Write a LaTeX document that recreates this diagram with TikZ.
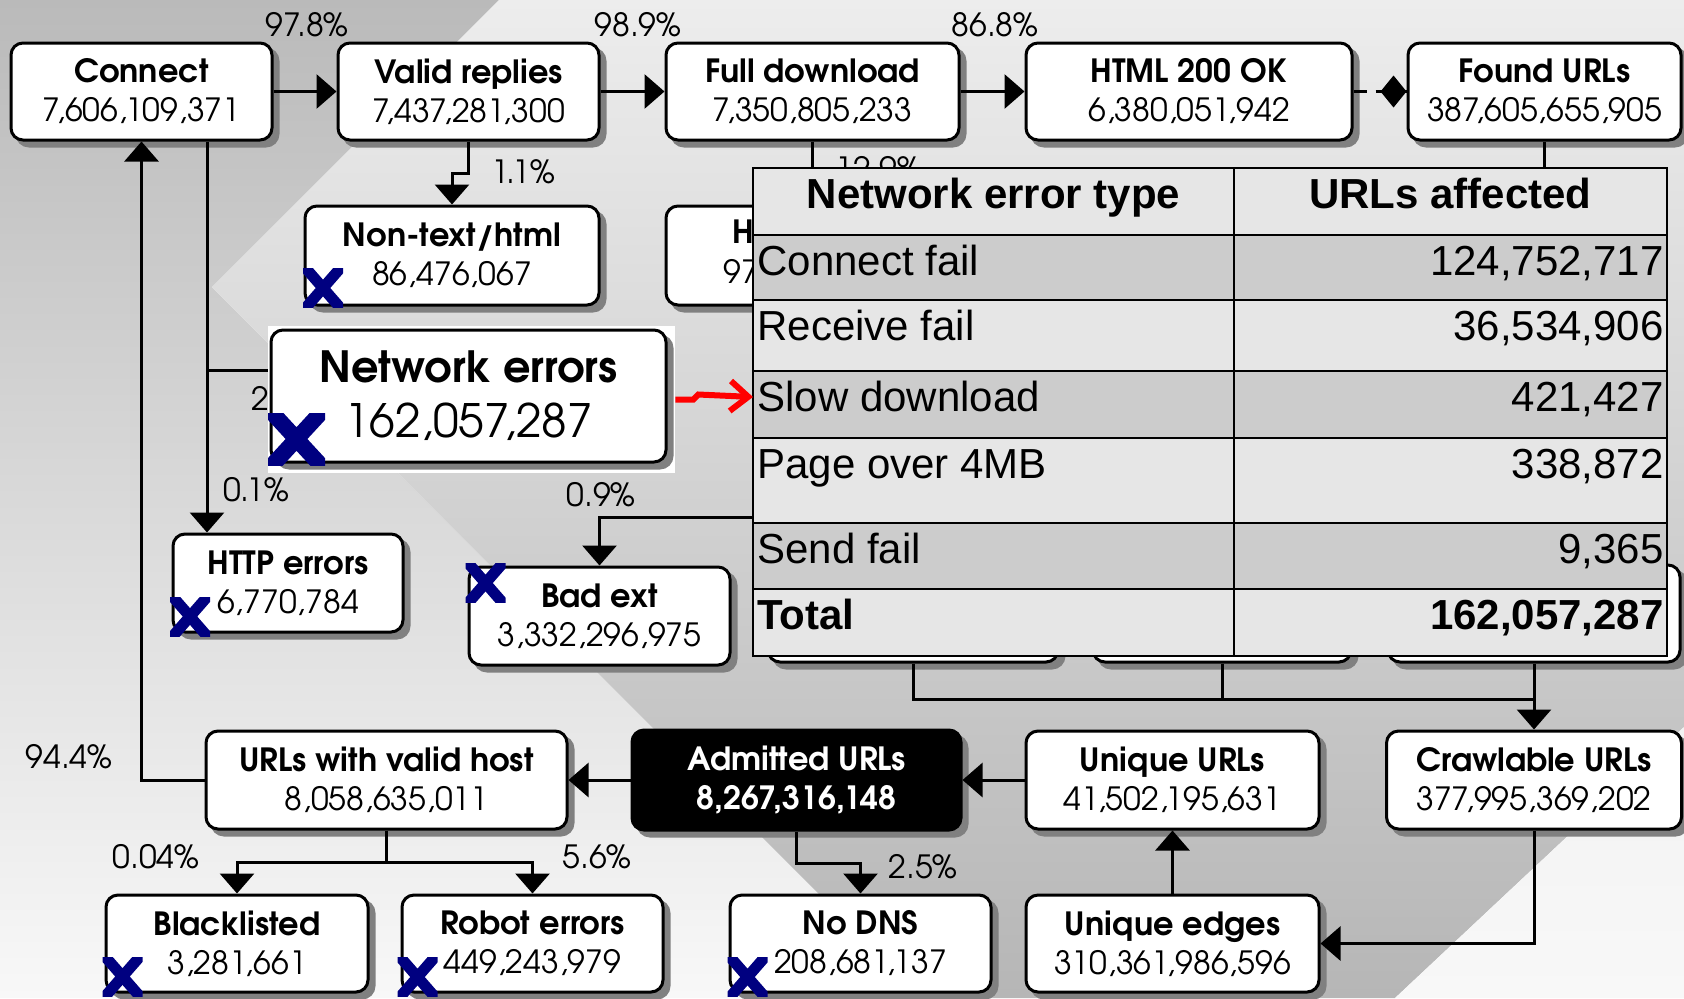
\documentclass[tikz,border=0pt]{standalone}
\usepackage{fontspec}
\setmainfont{texgyreadventor}[Extension=.otf,UprightFont=*-regular,BoldFont=*-bold,ItalicFont=*-italic,BoldItalicFont=*-bolditalic]
\newfontfamily\tabfont{Liberation Sans}
\usetikzlibrary{arrows.meta}
\definecolor{shd}{RGB}{128,128,128}
\definecolor{xnavy}{RGB}{0,0,128}
\definecolor{rowdark}{RGB}{204,204,204}
\definecolor{rowlight}{RGB}{230,230,230}
\definecolor{bgA}{RGB}{186,186,186}
\definecolor{bgB}{RGB}{248,248,248}
\definecolor{bgC}{RGB}{237,237,237}
\definecolor{bgD}{RGB}{182,182,182}
\definecolor{bgE}{RGB}{242,242,242}
\begin{document}
\begin{tikzpicture}[x=0.5pt,y=-0.5pt,
  box/.style={draw, line width=1.5pt, rounded corners=6pt, fill=white, align=center, inner sep=0pt,
    font=\fontsize{16}{19.5}\selectfont,
    preaction={draw=shd, fill=shd, transform canvas={xshift=3pt,yshift=-3pt}}},
  pct/.style={font=\fontsize{16}{19}\selectfont, inner sep=0pt},
  conn/.style={line width=1.5pt},
  arr/.style={line width=1.5pt, -{Triangle[length=10pt,width=17pt]}},
  tt/.style={font=\tabfont\fontsize{21}{25}\selectfont, inner sep=0pt},
  ttb/.style={font=\tabfont\fontsize{21}{25}\selectfont\bfseries, inner sep=0pt},
  grid/.style={line width=1pt},
  xmk/.pic={\begin{scope}\clip (-20,-19.5) rectangle (20,19.5);
      \draw[xnavy, line width=5.5pt] (-34,-39) -- (34,39) (34,-39) -- (-34,39);\end{scope}},
  xmkbig/.pic={\begin{scope}\clip (-28.5,-26) rectangle (28.5,26);
      \draw[xnavy, line width=8pt] (-48,-52) -- (48,52) (48,-52) -- (-48,52);\end{scope}}
]
\useasboundingbox (0,0) rectangle (1684,998);
% background
\shade[top color=bgA, bottom color=bgB] (0,0) -- (499,0) -- (212,287) -- (923,998) -- (0,998) -- cycle;
\shade[top color=bgC, bottom color=bgD] (499,0) -- (1684,0) -- (1684,727) -- (1395,998) -- (923,998) -- (212,287) -- cycle;
\shade[top color=bgE, bottom color=bgB] (1684,727) -- (1684,998) -- (1395,998) -- cycle;

% boxes
\node[box, minimum width=130.5pt, minimum height=48.5pt] (connect) at (141.5,91.5) {\textbf{Connect}\\7,606,109,371};
\node[box, minimum width=130.5pt, minimum height=48.5pt] (valid) at (468.5,91.5) {\textbf{Valid replies}\\7,437,281,300};
\node[box, minimum width=146.5pt, minimum height=48.5pt] (full) at (812.5,91.5) {\textbf{Full download}\\7,350,805,233};
\node[box, minimum width=163pt, minimum height=48.5pt] (html) at (1189,91.5) {\textbf{HTML 200 OK}\\6,380,051,942};
\node[box, minimum width=136.5pt, minimum height=48.5pt] (found) at (1544.5,91.5) {\textbf{Found URLs}\\387,605,655,905};
\node[box, minimum width=147pt, minimum height=49.5pt] (nontext) at (452,255.5) {\textbf{Non-text/html}\\86,476,067};
\node[box, minimum width=146.5pt, minimum height=49.5pt] (hbox) at (812.5,255.5) {};
\node[box, minimum width=115pt, minimum height=49pt] (http) at (288,583) {\textbf{HTTP errors}\\6,770,784};
\node[box, minimum width=130.5pt, minimum height=49pt] (badext) at (599.5,616) {\textbf{Bad ext}\\3,332,296,975};
\node[box, minimum width=145pt, minimum height=48.5pt] (hid1) at (913,613.5) {};
\node[box, minimum width=129pt, minimum height=48.5pt] (hid2) at (1222,613.5) {};
\node[box, minimum width=146pt, minimum height=48.5pt] (hid3) at (1534,613.5) {};
\node[box, minimum width=180.5pt, minimum height=49pt] (validhost) at (386.5,780) {\textbf{URLs with valid host}\\8,058,635,011};
\node[box, fill=black, text=white, minimum width=164.5pt, minimum height=50pt] (admitted) at (796.5,780) {\textbf{Admitted URLs}\\\textbf{8,267,316,148}};
\node[box, minimum width=146.5pt, minimum height=49pt] (unique) at (1172.5,780) {\textbf{Unique URLs}\\41,502,195,631};
\node[box, minimum width=147.5pt, minimum height=49pt] (crawl) at (1534,780) {\textbf{Crawlable URLs}\\377,995,369,202};
\node[box, minimum width=131pt, minimum height=48.5pt] (black) at (237,943.5) {\textbf{Blacklisted}\\3,281,661};
\node[box, minimum width=130.5pt, minimum height=48.5pt] (robot) at (532.5,943.5) {\textbf{Robot errors}\\449,243,979};
\node[box, minimum width=130.5pt, minimum height=48.5pt] (nodns) at (860.5,943.5) {\textbf{No DNS}\\208,681,137};
\node[box, minimum width=146.5pt, minimum height=48.5pt] (edges) at (1172.5,943.5) {\textbf{Unique edges}\\310,361,986,596};

\node[font=\fontsize{16}{19}\selectfont\bfseries, anchor=base west, inner sep=0pt] (hH) at (732,243) {H};
\node[pct, anchor=base west] (h97) at (723,283) {97};

% connectors
\coordinate (j1) at (207,370);
\coordinate (j2) at (760,517);
\draw[arr] (connect) -- (valid);
\draw[arr] (valid) -- (full);
\draw[arr] (full) -- (html);
\draw[line width=1.5pt, dash pattern=on 6.5pt off 4.5pt] (html) -- (found);
\draw[line width=1.5pt, -{Diamond[length=13pt,width=16pt]}] ([xshift=-8pt]found.west) -- (found.west);
\draw[arr] (valid.south) -- ++(0,32) -| (nontext.north);
\draw[arr] (connect.south -| j1) -- (http.north -| j1);
\draw[conn] (j1) -- (j1 -| hbox.west);
\draw[arr] (validhost.west) -| (connect.south);
\draw[arr] (j2) -| (badext.north);
\draw[arr] (full.south) -- (hbox.north);
\draw[conn] (found.south) -- ++(0,70);
\draw[conn] (hid1.south) -- ++(0,36) -| (hid3.south);
\draw[conn] (hid2.south) -- ++(0,36);
\draw[arr] (hid3.south) -- (crawl.north);
\draw[arr] (unique) -- (admitted);
\draw[arr] (admitted) -- (validhost);
\draw[arr] (validhost.south) -- ++(0,32) -| (black.north);
\draw[arr] (validhost.south) -- ++(0,32) -| (robot.north);
\draw[arr] (admitted.south) -- ++(0,32) -| (nodns.north);
\draw[arr] (crawl.south) |- (edges.east);
\draw[arr] (edges) -- (unique);

% labels
\node[pct] (p1) at (307,25) {97.8\%};
\node[pct] (p2) at (638,25) {98.9\%};
\node[pct] (p3) at (995,25) {86.8\%};
\node[pct] (p4) at (523,172) {1.1\%};
\node[pct] (p5) at (256,490) {0.1\%};
\node[pct] (p6) at (601,495) {0.9\%};
\node[pct] (p7) at (69,757) {94.4\%};
\node[pct] (p8) at (156,857) {0.04\%};
\node[pct] (p9) at (597,857) {5.6\%};
\node[pct] (p10) at (923,867) {2.5\%};
\node[pct] (p11) at (260,398) {2};
\node[pct, anchor=base west] (p12) at (835,180) {12.9\%};

% x marks
\pic at (323,288) {xmk};
\pic at (190,616.5) {xmk};
\pic at (485.5,583) {xmk};
\pic at (122.5,976.5) {xmk};
\pic at (417.5,977) {xmk};
\pic at (747.5,977) {xmk};

% network errors
\node[fill=white, minimum width=203.5pt, minimum height=73.5pt, inner sep=0pt] (netbg) at (471.5,399.5) {};
\node[box, minimum width=197.5pt, minimum height=66pt, font=\fontsize{21.5}{27.5}\selectfont] (network) at (468.5,396) {\textbf{Network errors}\\{\fontsize{23}{27.5}\selectfont 162,057,287}};
\pic at (296.5,439) {xmkbig};

% table
\fill[rowlight] (753,168) rectangle (1667,235);
\fill[rowdark] (753,235) rectangle (1667,300);
\fill[rowlight] (753,300) rectangle (1667,371);
\fill[rowdark] (753,371) rectangle (1667,438);
\fill[rowlight] (753,438) rectangle (1667,523);
\fill[rowdark] (753,523) rectangle (1667,589);
\fill[rowlight] (753,589) rectangle (1667,656);
\foreach \yy in {235,300,371,438,523,589} \draw[grid] (753,\yy) -- (1667,\yy);
\draw[grid] (1234,168) -- (1234,656);
\draw[line width=1.3pt] (753,168) rectangle (1667,656);
\coordinate (tslow) at (753,397);
\node[ttb, anchor=base] (th1) at (993.5,208) {Network error type};
\node[ttb, anchor=base] (th2) at (1450.5,208) {URLs affected};
\node[tt, anchor=base west] (ta1) at (757,275) {Connect fail};
\node[tt, anchor=base east] (tb1) at (1664,275) {124,752,717};
\node[tt, anchor=base west] (ta2) at (757,340) {Receive fail};
\node[tt, anchor=base east] (tb2) at (1664,340) {36,534,906};
\node[tt, anchor=base west] (ta3) at (757,411) {Slow download};
\node[tt, anchor=base east] (tb3) at (1664,411) {421,427};
\node[tt, anchor=base west] (ta4) at (757,478) {Page over 4MB};
\node[tt, anchor=base east] (tb4) at (1664,478) {338,872};
\node[tt, anchor=base west] (ta5) at (757,563) {Send fail};
\node[tt, anchor=base east] (tb5) at (1664,563) {9,365};
\node[ttb, anchor=base west] (ta6) at (757,629) {Total};
\node[ttb, anchor=base east] (tb6) at (1664,629) {162,057,287};

% red arrow
\draw[red, line width=3pt, -{Straight Barb[length=9pt,width=15pt]}] (netbg.east) -- ++(18,0) -- ++(5,-5) -- (tslow);
\end{tikzpicture}
\end{document}
